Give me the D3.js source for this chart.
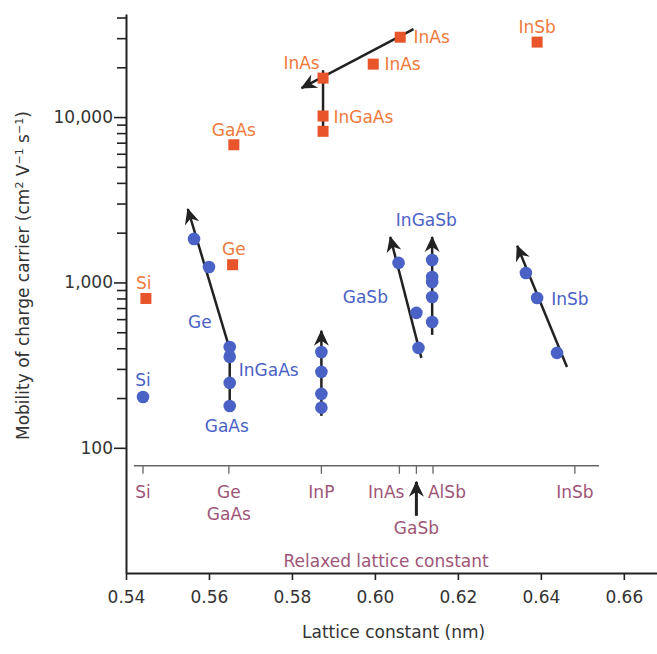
<!DOCTYPE html>
<html>
<head>
<meta charset="utf-8">
<script src="https://cdn.jsdelivr.net/npm/d3@7"></script>
<style>
body { margin: 0; background: #fff; }
text { font-family: "DejaVu Sans", sans-serif; }
</style>
</head>
<body>
<div id="chart"></div>
<script>
// electron mobility (orange squares): [lattice constant nm, mobility]
var electronPts = [
    [0.5448, 800], [0.5657, 1280], [0.5660, 6800],
    [0.5875, 8200], [0.5875, 10150], [0.5875, 17200],
    [0.5996, 20900], [0.6061, 30400], [0.6391, 28400]
];
// hole mobility (blue circles)
var holePts = [
    [0.5441, 203],
    [0.5564, 1833], [0.5600, 1241],
    [0.5650, 407], [0.5650, 355], [0.5650, 247], [0.5650, 179],
    [0.5871, 380], [0.5871, 288], [0.5871, 212], [0.5871, 175],
    [0.6057, 1313], [0.6100, 655], [0.6105, 402],
    [0.6138, 1368], [0.6138, 1079], [0.6138, 1007], [0.6138, 817], [0.6138, 577],
    [0.6364, 1140], [0.6391, 805], [0.6439, 375]
];
// trend lines with arrowheads
var electronArrows = [
    [[0.6093, 34000], [0.5823, 14960]]
];
var electronLinks = [
    [[0.5875, 8150], [0.5875, 19200]]
];
var holeArrows = [
    [[0.5650, 170], [0.5650, 395], [0.5549, 2780]],
    [[0.5871, 156], [0.5871, 510]],
    [[0.6112, 350], [0.6037, 1884]],
    [[0.6138, 482], [0.6138, 1884]],
    [[0.6463, 308], [0.6343, 1665]]
];
// labels: [text, lattice, mobility, anchor]
var electronLabels = [
    ["Si", 0.5443, 993, "middle"],
    ["Ge", 0.5660, 1592, "middle"],
    ["GaAs", 0.5660, 8340, "middle"],
    ["InAs", 0.5867, 21200, "end"],
    ["InGaAs", 0.5900, 10000, "start"],
    ["InAs", 0.6023, 20900, "start"],
    ["InAs", 0.6093, 30400, "start"],
    ["InSb", 0.6391, 35000, "middle"]
];
var holeLabels = [
    ["Si", 0.5441, 258, "middle"],
    ["Ge", 0.5578, 577, "middle"],
    ["InGaAs", 0.5672, 296, "start"],
    ["GaAs", 0.5643, 136, "middle"],
    ["GaSb", 0.5977, 817, "middle"],
    ["InGaSb", 0.6124, 2388, "middle"],
    ["InSb", 0.6425, 795, "start"]
];
// relaxed lattice constants
var relaxedNames = ["Si", "Ge", "InP", "InAs", "GaSb", "AlSb", "InSb"];
var relaxedValues = [0.5441, 0.5648, 0.5871, 0.6059, 0.6100, 0.6140, 0.6482];

var xTicks = [0.54, 0.56, 0.58, 0.60, 0.62, 0.64, 0.66];
var yMajor = [100, 1000, 10000];
var yMinor = [200, 300, 400, 500, 600, 700, 800, 900,
              2000, 3000, 4000, 5000, 6000, 7000, 8000, 9000,
              20000, 30000, 40000];

var width = 657, height = 654;
var orange = "#e8552b", orangeText = "#ef7a3c", blue = "#4a62c6", mauve = "#9e5577", ink = "#222";

var svg = d3.select("#chart")
    .append("svg")
    .attr("width", width)
    .attr("height", height);

var defs = svg.append("defs");
defs.append("marker")
    .attr("id", "head")
    .attr("viewBox", "-16 -8 17 16")
    .attr("refX", 0).attr("refY", 0)
    .attr("markerWidth", 17).attr("markerHeight", 16)
    .attr("markerUnits", "userSpaceOnUse")
    .attr("orient", "auto")
    .append("path")
    .attr("d", "M1,0 L-15,-7.5 L-10,0 L-15,7.5 Z")
    .attr("fill", ink);

var x = d3.scaleLinear()
    .domain([0.54, 0.668])
    .range([126, 657]);
var y = d3.scaleLog()
    .domain([17.5, 42000])
    .range([573, 14]);

// y axis: minor + major ticks
svg.append("g")
    .attr("transform", "translate(" + x(0.54) + ",0)")
    .call(d3.axisLeft(y).tickValues(yMinor).tickSize(9).tickSizeOuter(0).tickFormat(""))
    .call(function(g) { g.select(".domain").attr("stroke", ink).attr("stroke-width", 2); })
    .call(function(g) { g.selectAll(".tick line").attr("stroke", ink).attr("stroke-width", 1.6); });

svg.append("g")
    .attr("transform", "translate(" + x(0.54) + ",0)")
    .call(d3.axisLeft(y).tickValues(yMajor).tickSize(12).tickPadding(1).tickFormat(d3.format(",")))
    .call(function(g) { g.select(".domain").remove(); })
    .call(function(g) { g.selectAll(".tick line").attr("stroke", ink).attr("stroke-width", 1.6); })
    .call(function(g) { g.selectAll(".tick text").attr("fill", "#333").style("font-size", "17px"); });

// x axis
svg.append("g")
    .attr("transform", "translate(0," + y(17.5) + ")")
    .call(d3.axisBottom(x).tickValues(xTicks).tickSize(7).tickSizeOuter(0).tickPadding(11).tickFormat(d3.format(".2f")))
    .call(function(g) { g.select(".domain").attr("stroke", ink).attr("stroke-width", 2); })
    .call(function(g) { g.selectAll(".tick line").attr("stroke", ink).attr("stroke-width", 1.6); })
    .call(function(g) { g.selectAll(".tick text").attr("fill", "#333").style("font-size", "17px"); });

// axis titles
svg.append("text")
    .attr("transform", "translate(" + x(0.6045) + "," + (y(17.5) + 65) + ")")
    .style("text-anchor", "middle")
    .style("font-size", "17px")
    .attr("fill", "#333")
    .text("Lattice constant (nm)");

var yTitle = svg.append("text")
    .attr("transform", "translate(29," + y(1100) + ") rotate(-90)")
    .style("text-anchor", "middle")
    .style("font-size", "17px")
    .attr("fill", "#333");
yTitle.append("tspan").text("Mobility of charge carrier (cm");
yTitle.append("tspan").attr("baseline-shift", "super").style("font-size", "11px").text("2");
yTitle.append("tspan").text(" V");
yTitle.append("tspan").attr("baseline-shift", "super").style("font-size", "11px").text("\u22121");
yTitle.append("tspan").text(" s");
yTitle.append("tspan").attr("baseline-shift", "super").style("font-size", "11px").text("\u22121");
yTitle.append("tspan").text(")");

// relaxed lattice constant scale
var ry = y(100) + 18;
var relaxed = svg.append("g").attr("transform", "translate(0," + ry + ")");
relaxed.append("line")
    .attr("x1", x(0.5419)).attr("x2", x(0.6540))
    .attr("stroke", "#666").attr("stroke-width", 1.5);
relaxed.selectAll(".rtick")
    .data(relaxedValues)
    .enter().append("line")
    .attr("x1", function(d) { return x(d); })
    .attr("x2", function(d) { return x(d); })
    .attr("y1", 0).attr("y2", 8)
    .attr("stroke", "#666").attr("stroke-width", 1.3);

relaxed.selectAll(".rlabel")
    .data(relaxedNames)
    .enter().append("text")
    .attr("x", function(d, i) {
        if (d == "InAs") return x(relaxedValues[i]) + 5;
        if (d == "AlSb") return x(relaxedValues[i]) - 5;
        return x(relaxedValues[i]);
    })
    .attr("y", function(d) { return d == "GaSb" ? 62 : 26; })
    .attr("dy", "0.35em")
    .style("text-anchor", function(d) {
        if (d == "InAs") return "end";
        if (d == "AlSb") return "start";
        return "middle";
    })
    .style("font-size", "17px")
    .attr("fill", mauve)
    .text(function(d) { return d; });

relaxed.append("text")
    .attr("x", x(relaxedValues[1]))
    .attr("y", 48).attr("dy", "0.35em")
    .style("text-anchor", "middle")
    .style("font-size", "17px")
    .attr("fill", mauve)
    .text("GaAs");

relaxed.append("line")
    .attr("x1", x(relaxedValues[4])).attr("x2", x(relaxedValues[4]))
    .attr("y1", 50).attr("y2", 16)
    .attr("stroke", ink).attr("stroke-width", 3)
    .attr("marker-end", "url(#head)");

relaxed.append("text")
    .attr("x", x(0.6027))
    .attr("y", 95).attr("dy", "0.35em")
    .style("text-anchor", "middle")
    .style("font-size", "17px")
    .attr("fill", mauve)
    .text("Relaxed lattice constant");

// trend lines
var line = d3.line()
    .x(function(d) { return x(d[0]); })
    .y(function(d) { return y(d[1]); });

svg.selectAll(".elink")
    .data(electronLinks)
    .enter().append("path")
    .attr("d", line)
    .attr("fill", "none")
    .attr("stroke", ink)
    .attr("stroke-width", 2.5);

svg.selectAll(".earrow")
    .data(electronArrows.concat(holeArrows))
    .enter().append("path")
    .attr("d", line)
    .attr("fill", "none")
    .attr("stroke", ink)
    .attr("stroke-width", 2.5)
    .attr("stroke-linejoin", "round")
    .attr("marker-end", "url(#head)");

// points
svg.selectAll(".sq")
    .data(electronPts)
    .enter().append("rect")
    .attr("x", function(d) { return x(d[0]) - 5.5; })
    .attr("y", function(d) { return y(d[1]) - 5.5; })
    .attr("width", 11).attr("height", 11)
    .attr("fill", orange);

svg.selectAll(".dot")
    .data(holePts)
    .enter().append("circle")
    .attr("cx", function(d) { return x(d[0]); })
    .attr("cy", function(d) { return y(d[1]); })
    .attr("r", 6.3)
    .attr("fill", blue);

// labels
function addLabels(data, color) {
    svg.selectAll(null)
        .data(data)
        .enter().append("text")
        .attr("x", function(d) { return x(d[1]); })
        .attr("y", function(d) { return y(d[2]); })
        .attr("dy", "0.35em")
        .style("text-anchor", function(d) { return d[3]; })
        .style("font-size", "17px")
        .attr("fill", color)
        .text(function(d) { return d[0]; });
}
addLabels(electronLabels, orangeText);
addLabels(holeLabels, blue);
</script>
</body>
</html>
